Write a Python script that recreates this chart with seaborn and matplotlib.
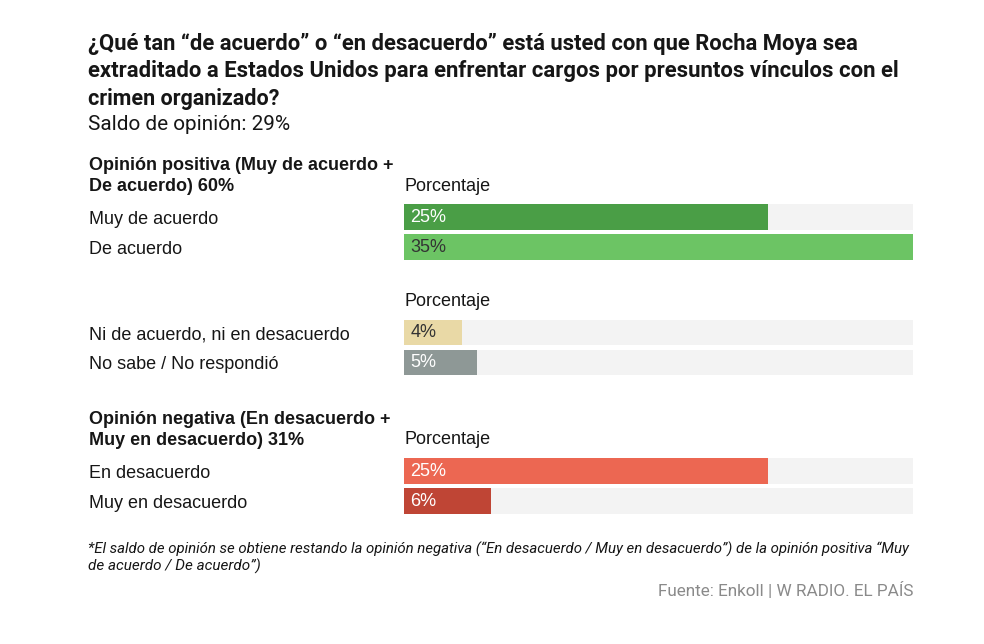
import matplotlib
matplotlib.use("Agg")
import matplotlib.pyplot as plt
import seaborn as sns
import pandas as pd

# data
pos_labels = ["Muy de acuerdo", "De acuerdo"]
pos_values = [25, 35]
neu_labels = ["Ni de acuerdo, ni en desacuerdo", "No sabe / No respondió"]
neu_values = [4, 5]
neg_labels = ["En desacuerdo", "Muy en desacuerdo"]
neg_values = [25, 6]

pos_colors = ["#4a9e46", "#6cc464"]
neu_colors = ["#e9d9a6", "#8e9896"]
neg_colors = ["#ec6752", "#bf4535"]
pos_txt = ["white", "#333333"]
neu_txt = ["#333333", "white"]
neg_txt = ["white", "white"]

track_max = max(pos_values + neu_values + neg_values)

sns.set_theme(style="white")
plt.rcParams["font.family"] = ["Roboto", "DejaVu Sans"]
cond = ["Roboto", "DejaVu Sans"]
norm = ["Liberation Sans", "DejaVu Sans"]
INK = "#161616"

W, H = 984, 644
fig = plt.figure(figsize=(W / 100, H / 100), dpi=100)
fig.patch.set_facecolor("white")
renderer = fig.canvas.get_renderer()


def fy(y):
    return 1 - y / H


def fx(x):
    return x / W


def fit_text(x, y, s, width, fs=12, **kw):
    # scale font size so the text spans roughly the width seen in the reference
    t = fig.text(fx(x), fy(y), s, fontsize=fs, **kw)
    w = t.get_window_extent(renderer).width
    t.set_fontsize(fs * width / w)
    return t


# title block
title_lines = [
    ("¿Qué tan “de acuerdo” o “en desacuerdo” está usted con que Rocha Moya sea", 44, 769),
    ("extraditado a Estados Unidos para enfrentar cargos por presuntos vínculos con el", 71, 806),
    ("crimen organizado?", 99, 191),
]
for s, y, w in title_lines:
    fit_text(88, y, s, w, fontweight="bold", family=cond, va="center", ha="left", color=INK)
fit_text(88, 125, "Saldo de opinión: 29%", 201, family=cond, va="center", ha="left", color=INK)


def group(labels, values, colors, txtcols, y_top, header=None):
    ax = fig.add_axes([fx(404), fy(y_top + 60), fx(913) - fx(404), 60 / H])
    df = pd.DataFrame({"label": labels, "value": values})
    sns.barplot(data=df.assign(value=track_max), x="value", y="label",
                color="#f3f3f3", width=0.85, ax=ax, saturation=1, linewidth=0)
    sns.barplot(data=df, x="value", y="label", hue="label", palette=colors,
                width=0.85, ax=ax, legend=False, saturation=1, linewidth=0)
    ax.set_xlim(0, track_max)
    ax.set_ylim(1.5, -0.5)
    ax.set_xticks([])
    ax.set_xlabel("")
    ax.set_ylabel("")
    for s in ax.spines.values():
        s.set_visible(False)
    ax.tick_params(axis="y", length=0, pad=(404 - 89) * 0.72)
    for t in ax.get_yticklabels():
        t.set_horizontalalignment("left")
        t.set_fontsize(13)
        t.set_family(norm)
        t.set_color(INK)
    for i, (v, c) in enumerate(zip(values, txtcols)):
        ax.text(0.45, i, f"{v}%", color=c, va="center", ha="left",
                fontsize=13, family=norm)
    fig.text(fx(404), fy(y_top - 16), "Porcentaje", fontsize=13, family=norm,
             va="center", ha="left", color=INK)
    if header:
        fig.text(fx(89), fy(y_top - 26), header, fontsize=13, fontweight="bold",
                 family=norm, va="center", ha="left", linespacing=1.38, color=INK)
    return ax


group(pos_labels, pos_values, pos_colors, pos_txt, 202,
      "Opinión positiva (Muy de acuerdo +\nDe acuerdo) 60%")
group(neu_labels, neu_values, neu_colors, neu_txt, 317.5)
group(neg_labels, neg_values, neg_colors, neg_txt, 456,
      "Opinión negativa (En desacuerdo +\nMuy en desacuerdo) 31%")

fit_text(88, 549,
         "*El saldo de opinión se obtiene restando la opinión negativa (“En desacuerdo / Muy en desacuerdo”) de la opinión positiva “Muy",
         825, style="italic", family=cond, va="center", ha="left", color=INK)
fit_text(88, 566, "de acuerdo / De acuerdo”)", 172,
         style="italic", family=cond, va="center", ha="left", color=INK)
fit_text(913, 591, "Fuente: Enkoll | W RADIO. EL PAÍS", 256,
         family=cond, va="center", ha="right", color="#8a8a8a")

fig.savefig("out.png", dpi=100, facecolor="white")
